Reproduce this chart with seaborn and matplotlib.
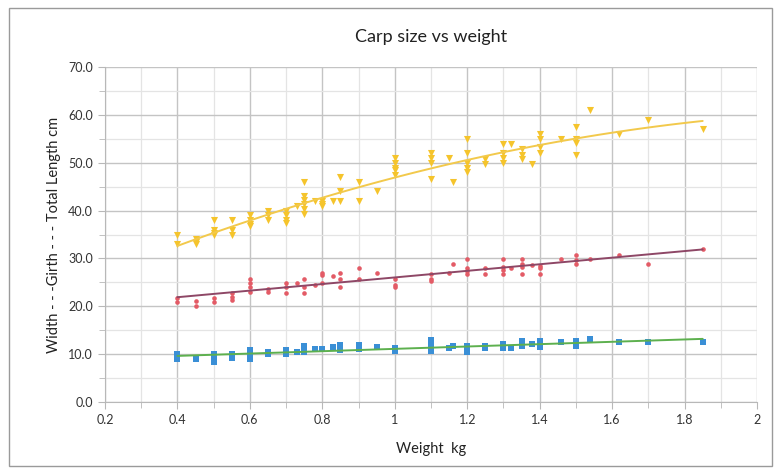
import matplotlib
matplotlib.use("Agg")
import matplotlib.pyplot as plt
import matplotlib.patches as mpatches
from matplotlib.ticker import MultipleLocator, FuncFormatter
import seaborn as sns
import pandas as pd

# Total length (cm) per fish weight (kg)
length_kg = [0.4, 0.4, 0.45, 0.45, 0.45, 0.5, 0.5, 0.5, 0.5, 0.55, 0.55, 0.55,
             0.6, 0.6, 0.6, 0.6, 0.65, 0.65, 0.65, 0.7, 0.7, 0.7, 0.7, 0.73,
             0.75, 0.75, 0.75, 0.75, 0.75, 0.75, 0.78, 0.8, 0.8, 0.8, 0.83,
             0.85, 0.85, 0.85, 0.9, 0.9, 0.95, 1.0, 1.0, 1.0, 1.0, 1.0,
             1.1, 1.1, 1.1, 1.1, 1.15, 1.16, 1.2, 1.2, 1.2, 1.2, 1.2,
             1.25, 1.25, 1.3, 1.3, 1.3, 1.3, 1.32, 1.35, 1.35, 1.35, 1.38,
             1.4, 1.4, 1.4, 1.4, 1.46, 1.5, 1.5, 1.5, 1.5, 1.54, 1.62, 1.7, 1.85]
length_cm = [35, 33, 34, 33.5, 33, 38, 36, 35.4, 35, 38, 36, 35,
             39, 38, 37.3, 36.8, 40, 39, 38, 40, 39, 38, 37.5, 41,
             46, 43, 42.2, 41.4, 40.3, 39.2, 42, 42, 41.4, 41, 42,
             47, 44, 42, 46, 42, 44, 51, 50, 49, 48.5, 47.5,
             52, 51, 50, 46.5, 51, 46, 55, 52, 50, 49, 48,
             50.7, 49.8, 54, 52, 51, 50, 54, 52.8, 51.7, 50.7, 49.8,
             56, 55, 53.2, 52, 55, 57.4, 55, 54.2, 51.7, 61, 56, 59, 57]

# Girth (cm)
girth_kg = [0.4, 0.4, 0.45, 0.45, 0.5, 0.5, 0.55, 0.55, 0.55,
            0.6, 0.6, 0.6, 0.6, 0.65, 0.65, 0.7, 0.7, 0.7, 0.73,
            0.75, 0.75, 0.75, 0.78, 0.8, 0.8, 0.8, 0.83, 0.85, 0.85, 0.85,
            0.9, 0.9, 0.95, 1.0, 1.0, 1.0, 1.1, 1.1, 1.1, 1.15, 1.16,
            1.2, 1.2, 1.2, 1.2, 1.25, 1.25, 1.3, 1.3, 1.3, 1.3, 1.32,
            1.35, 1.35, 1.35, 1.35, 1.38, 1.4, 1.4, 1.4, 1.46,
            1.5, 1.5, 1.5, 1.54, 1.62, 1.7, 1.85]
girth_cm = [21.8, 21, 21.1, 20, 21.8, 21, 22.8, 22, 21.3,
            25.8, 24.9, 24, 23, 23.7, 23, 24.9, 24, 22.8, 24.9,
            25.8, 24, 22.8, 24.4, 26.9, 26.5, 24.9, 26.4, 26.9, 25.8, 24,
            27.9, 25.8, 26.9, 25.7, 24.5, 24, 26.8, 25.7, 25.2, 27, 28.9,
            29.8, 27.9, 27.4, 26.8, 27.9, 26.8, 29.8, 28.3, 27.6, 26.8, 27.9,
            29.8, 28.9, 28.2, 26.8, 28.7, 28.5, 27.9, 26.8, 29.8,
            30.8, 29.6, 28.9, 29.8, 30.8, 28.8, 31.9]

# Width (cm)
width_kg = [0.4, 0.4, 0.45, 0.5, 0.5, 0.5, 0.55, 0.55, 0.6, 0.6, 0.6,
            0.65, 0.65, 0.7, 0.7, 0.7, 0.73, 0.75, 0.75, 0.75, 0.78, 0.8,
            0.83, 0.85, 0.85, 0.85, 0.9, 0.9, 0.95, 1.0, 1.0,
            1.1, 1.1, 1.1, 1.1, 1.15, 1.16, 1.2, 1.2, 1.2, 1.25, 1.25,
            1.3, 1.3, 1.3, 1.32, 1.35, 1.35, 1.35, 1.38, 1.4, 1.4, 1.4,
            1.46, 1.5, 1.5, 1.5, 1.54, 1.62, 1.7, 1.85]
width_cm = [10, 9, 9, 10, 9.1, 8.4, 10, 9.1, 10.9, 10, 9,
            10.5, 10, 10.9, 10.4, 10, 10.4, 11.6, 11.1, 10.4, 11.1, 11.1,
            11.4, 11.9, 11.4, 10.9, 11.9, 11, 11.4, 11.2, 10.6,
            12.9, 11.9, 11.2, 10.6, 11.2, 11.7, 11.7, 11, 10.5, 11.7, 11.2,
            12.2, 11.7, 11.2, 11.2, 12.7, 12, 11.6, 12.2, 12.7, 12, 11.5,
            12.6, 12.7, 12, 11.6, 13.1, 12.6, 12.6, 12.6]

sns.set_style("white")
plt.rcParams['font.family'] = ['Lato', 'DejaVu Sans']

fig = plt.figure(figsize=(7.81, 4.72), dpi=100)
ax = fig.add_axes([0.1344, 0.1483, 0.8349, 0.7097])

# outer chart frame
fig.patches.append(mpatches.Rectangle((0.011, 0.013), 0.977, 0.971,
                                      transform=fig.transFigure, fill=False,
                                      edgecolor="#9a9a9a", linewidth=1.0))

length_df = pd.DataFrame({"kg": length_kg, "cm": length_cm})
girth_df = pd.DataFrame({"kg": girth_kg, "cm": girth_cm})
width_df = pd.DataFrame({"kg": width_kg, "cm": width_cm})

sns.regplot(data=length_df, x="kg", y="cm", order=2, ci=None, ax=ax,
            marker="v", color="#F5C42C",
            scatter_kws={"s": 26, "alpha": 1, "linewidths": 0, "zorder": 3},
            line_kws={"color": "#F2C94C", "linewidth": 1.4, "zorder": 4})
sns.regplot(data=girth_df, x="kg", y="cm", ci=None, ax=ax,
            marker="o", color="#E35B66",
            scatter_kws={"s": 11, "alpha": 1, "linewidths": 0, "zorder": 3},
            line_kws={"color": "#8E4766", "linewidth": 1.4, "zorder": 4})
sns.regplot(data=width_df, x="kg", y="cm", ci=None, ax=ax,
            marker="s", color="#3A8FD6",
            scatter_kws={"s": 13, "alpha": 1, "linewidths": 0, "zorder": 3},
            line_kws={"color": "#5DB04E", "linewidth": 1.4, "zorder": 4})

ax.set_xlim(0.2, 2.0)
ax.set_ylim(0, 70)
ax.xaxis.set_major_locator(MultipleLocator(0.2))
ax.xaxis.set_minor_locator(MultipleLocator(0.1))
ax.yaxis.set_major_locator(MultipleLocator(10))
ax.yaxis.set_minor_locator(MultipleLocator(5))
ax.xaxis.set_major_formatter(FuncFormatter(lambda v, p: f"{v:.1f}".rstrip("0").rstrip(".")))
ax.yaxis.set_major_formatter(FuncFormatter(lambda v, p: f"{v:.1f}"))

ax.grid(which="major", color="#c4c4c4", linewidth=1.0)
ax.grid(which="minor", color="#e4e4e4", linewidth=0.9)
ax.set_axisbelow(True)
for side in ["top", "right"]:
    ax.spines[side].set_visible(False)
for side in ["left", "bottom"]:
    ax.spines[side].set_color("#b8b8b8")
ax.tick_params(which="both", direction="out", color="#b8b8b8", labelsize=9,
               labelcolor="#333333", left=True, bottom=True)
ax.tick_params(which="major", length=5)
ax.tick_params(which="minor", length=4)

ax.set_title("Carp size vs weight", fontsize=13, color="#222222", pad=18)
ax.set_xlabel("Weight  kg", fontsize=10.5, color="#222222", labelpad=12)
ax.set_ylabel("Width - - -Girth - - - Total Length cm", fontsize=10.5,
              color="#222222", labelpad=5)

fig.savefig("out.png", dpi=100)
